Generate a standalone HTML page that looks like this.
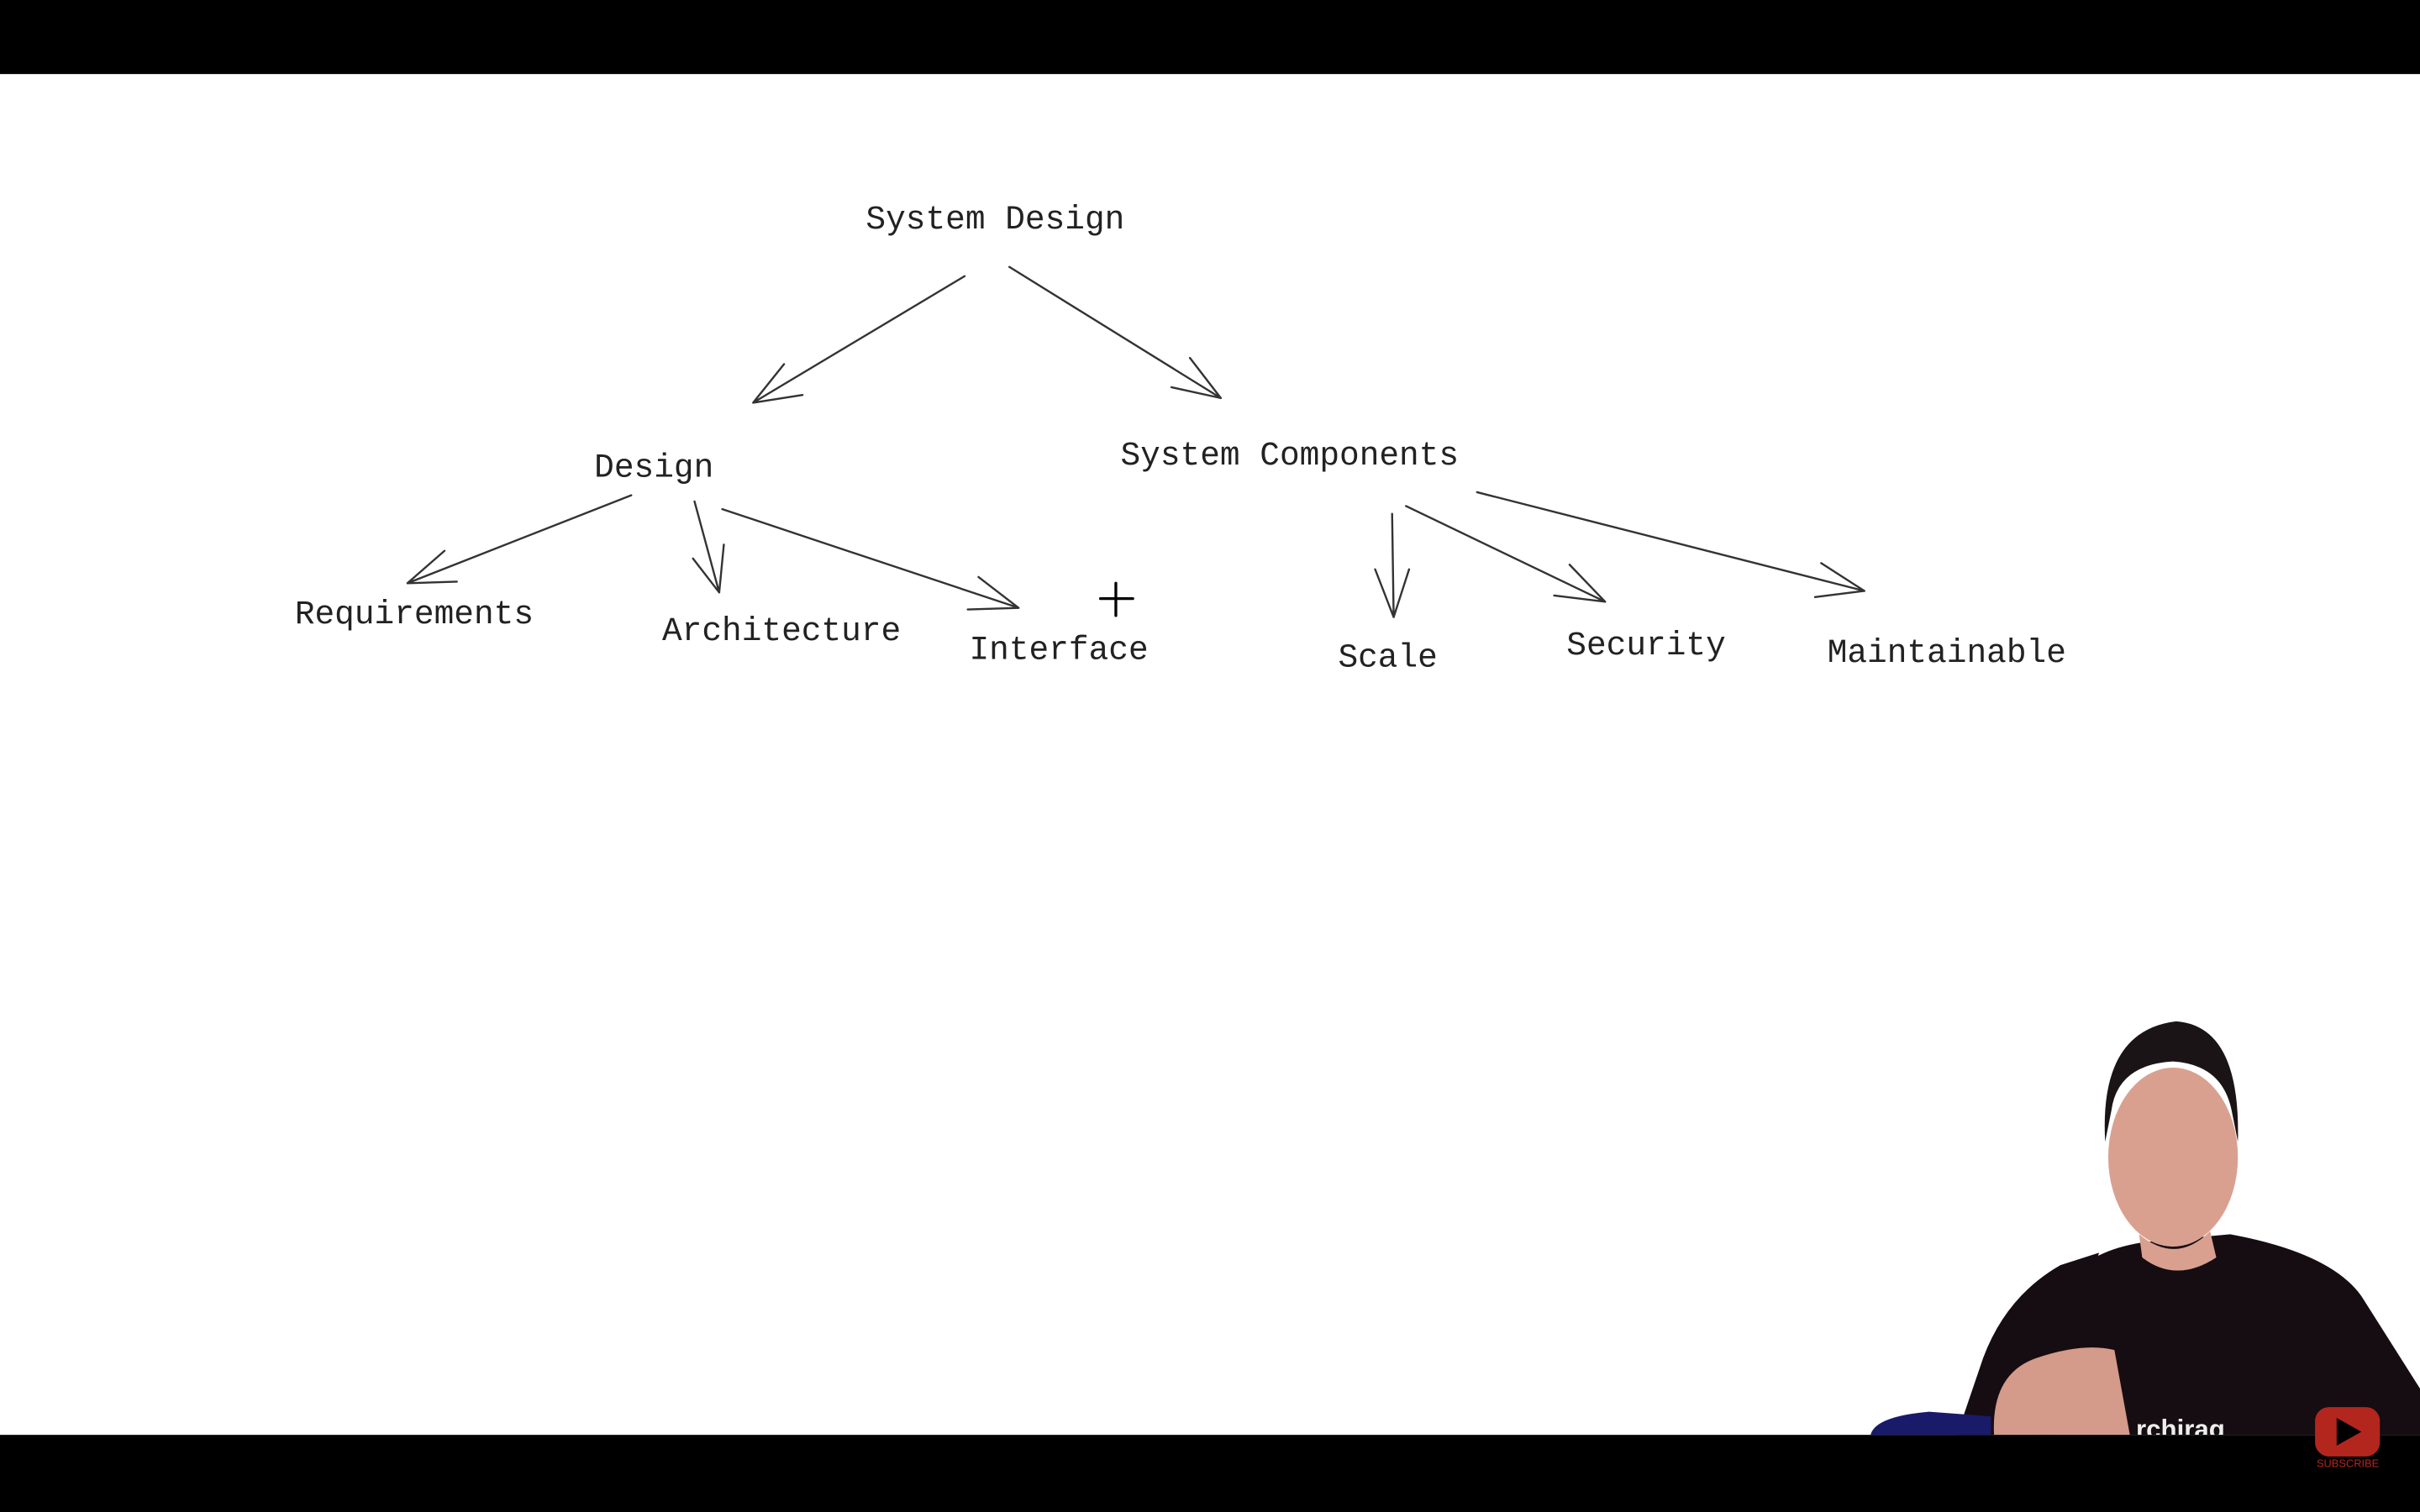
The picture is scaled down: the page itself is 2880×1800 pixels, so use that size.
<!DOCTYPE html>
<html><head><meta charset="utf-8"><style>
html,body{margin:0;padding:0;background:#fff;}
svg{display:block;}
text{font-family:"Liberation Mono","DejaVu Sans Mono",monospace;font-size:21.5px;fill:#222;}
</style></head><body>
<svg width="2880" height="1800" viewBox="0 0 1568 980" xmlns="http://www.w3.org/2000/svg">
<rect x="0" y="0" width="1568" height="980" fill="#fff"/>
<rect x="0" y="0" width="1568" height="48" fill="#000"/>
<g stroke="#333" stroke-width="1.3" fill="none" stroke-linecap="round">
<path d="M625 179 L488 261 M488 261 L508 236 M488 261 L520 256"/>
<path d="M654 173 L791 258 M791 258 L771 232 M791 258 L759 251"/>
<path d="M409 321 L264 378 M264 378 L288 357 M264 378 L296 377"/>
<path d="M450 325 L466 384 M466 384 L449 362 M466 384 L469 353"/>
<path d="M468 330 L660 394 M660 394 L634 374 M660 394 L627 395"/>
<path d="M902 333 L903 400 M903 400 L891 369 M903 400 L913 369"/>
<path d="M911 328 L1040 390 M1040 390 L1017 366 M1040 390 L1007 386"/>
<path d="M957 319 L1208 383 M1208 383 L1180 365 M1208 383 L1176 387"/>
<path d="M723 378 L723 399 M713 388 L734 388" stroke="#000" stroke-width="1.8"/>
</g>
<text x="561" y="148">System Design</text>
<text x="385" y="309">Design</text>
<text x="726" y="301">System Components</text>
<text x="191" y="404">Requirements</text>
<text x="429" y="415">Architecture</text>
<text x="628" y="427">Interface</text>
<text x="867" y="432">Scale</text>
<text x="1015" y="424">Security</text>
<text x="1184" y="429">Maintainable</text>
<!-- person -->
<path d="M1320 930 L1330 850 Q1340 812 1390 805 L1445 800 Q1510 812 1530 840 L1568 900 L1568 930 Z" fill="#150d12"/>
<path d="M1268 930 L1285 880 Q1300 840 1335 820 L1360 812 L1330 930 Z" fill="#150d12"/>
<ellipse cx="1408" cy="750" rx="42" ry="58" fill="#d9a090"/>
<path d="M1364 740 Q1360 668 1410 662 Q1452 665 1450 740 L1446 720 Q1440 690 1408 688 Q1372 690 1368 720 Z" fill="#1a1416"/>
<path d="M1386 800 Q1410 820 1432 798 L1436 815 Q1410 832 1388 815 Z" fill="#d9a090"/>
<path d="M1292 930 Q1290 890 1320 880 Q1350 870 1370 875 L1380 930 Z" fill="#d49a8a"/>
<path d="M1212 930 Q1215 918 1250 915 L1290 918 L1290 930 Z" fill="#1a1a6a"/>
<text x="1384" y="932" style="font-family:'Liberation Sans',sans-serif;font-size:17px;fill:#eee;font-weight:bold">rchirag</text>
<rect x="0" y="930" width="1568" height="50" fill="#000"/>
<rect x="1500" y="912" width="42" height="32" rx="9" fill="#b3261e"/>
<path d="M1514 919 L1514 937 L1530 928 Z" fill="#000"/>
<text x="1501" y="951" style="font-family:'Liberation Sans',sans-serif;font-size:7px;fill:#b3261e">SUBSCRIBE</text>
</svg>
</body></html>
